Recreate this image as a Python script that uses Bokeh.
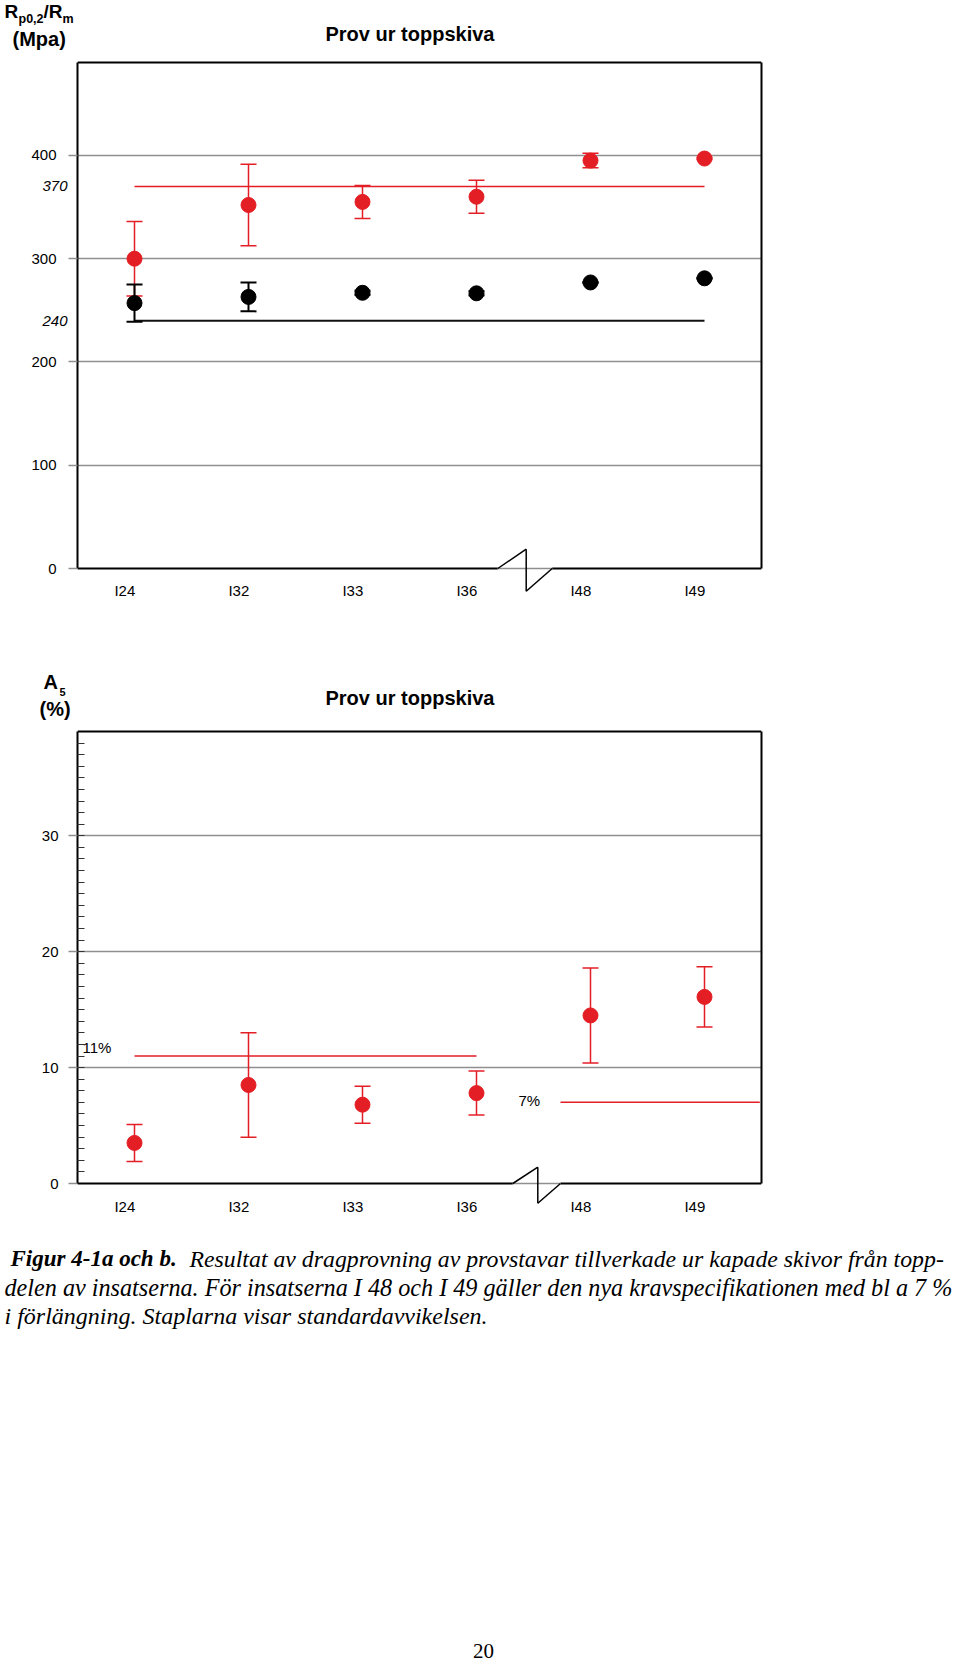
from bokeh.plotting import figure
from bokeh.layouts import column, row
from bokeh.models import Range1d, FixedTicker, Label, Arrow, ColumnDataSource, LinearAxis
from bokeh.embed import file_html
from bokeh.resources import INLINE

# ---------------- data ----------------
categories = ["I24", "I32", "I33", "I36", "I48", "I49"]
x_pos = [1, 2, 3, 4, 5, 6]

# Chart a: Rm (red) and Rp0.2 (black), MPa
rm_mean = [300, 352, 355, 360, 395, 397]
rm_sd = [36, 39.5, 16, 16, 7, 1]
rp_mean = [257, 263, 267, 266.5, 277, 281]
rp_sd = [18, 14, 2, 2, 0.5, 0.5]
rm_req = 370
rp_req = 240
y1_ticks = [0, 100, 200, 300, 400]
y1_req_ticks = [240, 370]
y1_max = 490

# Chart b: A5 elongation (%)
a5_mean = [3.5, 8.5, 6.8, 7.8, 14.5, 16.1]
a5_sd = [1.6, 4.5, 1.6, 1.9, 4.1, 2.6]
a5_req_old = 11
a5_req_new = 7
y2_ticks = [0, 10, 20, 30]
y2_minor = list(range(0, 39))
y2_max = 39

caption_bold = "Figur 4-1a och b."
caption_l1 = "Resultat av dragprovning av provstavar tillverkade ur kapade skivor från topp-"
caption_l2 = "delen av insatserna. För insatserna I 48 och I 49 gäller den nya kravspecifikationen med bl a 7 %"
caption_l3 = "i förlängning. Staplarna visar standardavvikelsen."
page_no = "20"

# ---------------- style / layout (page pixels) ----------------
RED = "#e31e24"
GRID = "#8f8f8f"
SANS = "Liberation Sans"
SERIF = "Liberation Serif"
PAGE_W = 960
STRIP_W = 68          # figure holding the y tick labels
TICK_OUT = 9
BOX_LEFT = STRIP_W + TICK_OUT   # 77
FW = 684
X0, X1 = 0.5, 6.5
PXU = FW / (X1 - X0)
LABEL_SHIFT = -0.085
CHART_W = PAGE_W - STRIP_W

# chart a geometry
H1_TOP, H1_H = 0, 56
R1_TOP = H1_TOP + H1_H              # 56
BOX1_TOP, BOX1_BOT = 62, 568
F1_TOP, F1_BOT = 58, 593
R1_H = 584
# chart b geometry
H2_TOP = R1_TOP + R1_H              # 640
H2_H = 84
R2_TOP = H2_TOP + H2_H              # 724
BOX2_TOP, BOX2_BOT = 731, 1183
F2_TOP, F2_BOT = 727, 1205
R2_H = 518
CAP_TOP = R2_TOP + R2_H             # 1242
CAP_H = 424


def no_align(p):
    if "frame_align" in p.properties():
        p.frame_align = False


def text_fig(width, height):
    p = figure(width=width, height=height, x_range=Range1d(0, width), y_range=Range1d(height, 0),
               output_backend="svg", toolbar_location=None, tools="",
               x_axis_location=None, y_axis_location=None, min_border=0)
    p.outline_line_color = None
    p.grid.visible = False
    no_align(p)
    return p


def add_text(p, top, px, py, text, size, style="bold", align="left", font=SANS):
    # py is the vertical centre of the text on the page
    p.add_layout(Label(x=px, y=py - top, text=text, text_font=font, text_font_size=size,
                       text_font_style=style, text_align=align, text_baseline="middle",
                       text_color="black"))


def chart_geom(box_top, box_bot, f_top, f_bot, r_top, r_h, ymax):
    k = (box_bot - box_top) / ymax
    yr = Range1d(-(f_bot - box_bot) / k, ymax + (box_top - f_top) / k)
    return dict(k=k, yr=yr, bt=f_top - r_top, fh=f_bot - f_top, bb=r_top + r_h - f_bot,
                box_bot=box_bot, f_bot=f_bot, ymax=ymax)


def make_strip(g, main_ticks, main_standoff, italic_ticks=None):
    p = figure(width=STRIP_W, frame_height=g["fh"], min_border_top=g["bt"], min_border_bottom=g["bb"],
               min_border_left=0, min_border_right=0,
               x_range=Range1d(0, 1), y_range=g["yr"], output_backend="svg",
               toolbar_location=None, tools="", x_axis_location=None, y_axis_location=None)
    p.outline_line_color = None
    p.grid.visible = False
    no_align(p)
    axes = [(main_ticks, main_standoff, "normal")]
    if italic_ticks:
        axes.append((italic_ticks, STRIP_W - (BOX_LEFT - 10), "italic"))
    for ticks, standoff, style in axes:
        ax = LinearAxis(ticker=FixedTicker(ticks=ticks), fixed_location=1.0,
                        axis_line_color=None, major_tick_in=0, major_tick_out=0,
                        minor_tick_in=0, minor_tick_out=0,
                        major_label_standoff=standoff, major_label_text_font=SANS,
                        major_label_text_font_size="15px", major_label_text_color="black",
                        major_label_text_font_style=style)
        p.add_layout(ax, "left")
    return p


def make_chart(g, yticks, label_centre, minor=None):
    p = figure(frame_width=FW, frame_height=g["fh"],
               min_border_left=TICK_OUT, min_border_right=CHART_W - TICK_OUT - FW,
               min_border_top=g["bt"], min_border_bottom=g["bb"],
               x_range=Range1d(X0, X1), y_range=g["yr"],
               output_backend="svg", toolbar_location=None, tools="")
    p.outline_line_color = None
    p.background_fill_color = "white"
    p.border_fill_color = "white"
    no_align(p)
    p.xgrid.visible = False
    p.ygrid.ticker = FixedTicker(ticks=[t for t in yticks if t > 0])
    p.ygrid.grid_line_color = GRID
    p.ygrid.grid_line_width = 1.5

    ya = p.yaxis[0]
    ya.ticker = FixedTicker(ticks=yticks, minor_ticks=minor or [])
    ya.bounds = (0, g["ymax"])
    ya.major_label_overrides = {t: "" for t in yticks}
    ya.major_label_standoff = 0
    ya.major_tick_out = TICK_OUT
    ya.major_tick_in = 0
    ya.major_tick_line_color = GRID
    ya.major_tick_line_width = 1.5
    if minor:
        ya.minor_tick_in = 7
        ya.minor_tick_out = 0
        ya.minor_tick_line_color = "#333333"
        ya.minor_tick_line_width = 1
    else:
        ya.minor_tick_in = 0
        ya.minor_tick_out = 0
    ya.axis_line_color = "black"
    ya.axis_line_width = 2

    # right edge of the box
    ra = LinearAxis(ticker=FixedTicker(ticks=[]), bounds=(0, g["ymax"]), axis_line_color="black",
                    axis_line_width=2, major_tick_in=0, major_tick_out=0, minor_tick_in=0,
                    minor_tick_out=0, major_label_standoff=0)
    p.add_layout(ra, "right")

    xa = p.xaxis[0]
    ticks = [x + LABEL_SHIFT for x in x_pos]
    xa.ticker = FixedTicker(ticks=ticks)
    xa.major_label_overrides = {t: c for t, c in zip(ticks, categories)}
    xa.major_tick_out = 0
    xa.major_tick_in = 0
    xa.minor_tick_out = 0
    xa.minor_tick_in = 0
    xa.axis_line_color = None
    xa.major_label_text_font = SANS
    xa.major_label_text_font_size = "15px"
    xa.major_label_text_color = "black"
    xa.major_label_standoff = int(round(label_centre - 9 - g["f_bot"]))
    return p


def seg(p, x0, y0, x1, y1, color, width):
    p.add_layout(Arrow(x_start=x0, y_start=y0, x_end=x1, y_end=y1, start=None, end=None,
                       line_color=color, line_width=width))


def frame_and_break(p, g, bx):
    # bx: page x of break start, zig x, break end; page y of the zig tips
    k = g["k"]
    xa, xb, xd = [X0 + (v - BOX_LEFT) / PXU for v in bx[:3]]
    yb = (g["box_bot"] - bx[3]) / k
    yc = (g["box_bot"] - bx[4]) / k
    ymax = g["ymax"]
    seg(p, X0, ymax, X1, ymax, "black", 2)
    seg(p, X0, 0, xa, 0, "black", 2)
    seg(p, xd, 0, X1, 0, "black", 2)
    seg(p, xa, 0, xd, 0, GRID, 1.5)
    seg(p, xa, 0, xb, yb, "black", 1.5)
    seg(p, xb, yb, xb, yc, "black", 1.5)
    seg(p, xb, yc, xd, 0, "black", 1.5)
    return xd


def errorbars(p, means, sds, color, lw):
    src = ColumnDataSource(dict(x=x_pos, y=means,
                                lo=[m - s for m, s in zip(means, sds)],
                                hi=[m + s for m, s in zip(means, sds)]))
    p.segment(x0="x", y0="lo", x1="x", y1="hi", source=src, line_color=color, line_width=lw)
    p.scatter(x="x", y="hi", source=src, marker="dash", size=16, line_color=color, line_width=lw)
    p.scatter(x="x", y="lo", source=src, marker="dash", size=16, line_color=color, line_width=lw)
    p.scatter(x="x", y="y", source=src, marker="circle", size=15,
              fill_color=color, line_color=color)


# ---------------- header a ----------------
h1 = text_fig(PAGE_W, H1_H)
add_text(h1, H1_TOP, 4, 11, "R", "19px")
add_text(h1, H1_TOP, 18, 18.6, "p0,2", "12.5px")
add_text(h1, H1_TOP, 43, 11, "/R", "19px")
add_text(h1, H1_TOP, 62, 18.2, "m", "12.5px")
add_text(h1, H1_TOP, 12, 38, "(Mpa)", "20px")
add_text(h1, H1_TOP, 325, 33, "Prov ur toppskiva", "20px")

# ---------------- chart a ----------------
g1 = chart_geom(BOX1_TOP, BOX1_BOT, F1_TOP, F1_BOT, R1_TOP, R1_H, y1_max)
s1 = make_strip(g1, y1_ticks, STRIP_W - 56, italic_ticks=y1_req_ticks)
p1 = make_chart(g1, y1_ticks, 590)
p1.segment(x0=[x_pos[0]], x1=[x_pos[-1]], y0=[rm_req], y1=[rm_req], line_color=RED, line_width=1.5)
p1.segment(x0=[x_pos[0]], x1=[x_pos[-1]], y0=[rp_req], y1=[rp_req], line_color="#111111", line_width=2)
errorbars(p1, rm_mean, rm_sd, RED, 1.5)
errorbars(p1, rp_mean, rp_sd, "black", 2)
frame_and_break(p1, g1, (497.3, 525.7, 551.7, 548.7, 590.7))

# ---------------- header b ----------------
h2 = text_fig(PAGE_W, H2_H)
add_text(h2, H2_TOP, 43, 681, "A", "20px")
add_text(h2, H2_TOP, 59, 691, "5", "11px")
add_text(h2, H2_TOP, 39, 708, "(%)", "20px")
add_text(h2, H2_TOP, 325, 697.5, "Prov ur toppskiva", "20px")

# ---------------- chart b ----------------
g2 = chart_geom(BOX2_TOP, BOX2_BOT, F2_TOP, F2_BOT, R2_TOP, R2_H, y2_max)
s2 = make_strip(g2, y2_ticks, STRIP_W - 58)
p2 = make_chart(g2, y2_ticks, 1206.5, minor=y2_minor)
xd2 = frame_and_break(p2, g2, (512.3, 537.3, 560.0, 1166.7, 1202.7))
p2.segment(x0=[x_pos[0]], x1=[x_pos[3]], y0=[a5_req_old], y1=[a5_req_old], line_color=RED, line_width=1.5)
p2.segment(x0=[xd2], x1=[X1 - 0.015], y0=[a5_req_new], y1=[a5_req_new], line_color=RED, line_width=1.5)
errorbars(p2, a5_mean, a5_sd, RED, 1.5)
for px, py, txt in [(82, 1047, "11%"), (518, 1100, "7%")]:
    p2.add_layout(Label(x=X0 + (px - BOX_LEFT) / PXU, y=(BOX2_BOT - py) / g2["k"], text=txt,
                        text_font=SANS, text_font_size="15px", text_align="left",
                        text_baseline="middle", text_color="black"))

# ---------------- caption ----------------
cap = text_fig(PAGE_W, CAP_H)
add_text(cap, CAP_TOP, 10, 1258, caption_bold, "23px", style="bold italic", font=SERIF)
add_text(cap, CAP_TOP, 189, 1258, caption_l1, "23.8px", style="italic", font=SERIF)
add_text(cap, CAP_TOP, 4, 1287, caption_l2, "24.2px", style="italic", font=SERIF)
add_text(cap, CAP_TOP, 4, 1315, caption_l3, "24px", style="italic", font=SERIF)
add_text(cap, CAP_TOP, 483, 1650, page_no, "21px", style="normal", align="center", font=SERIF)

layout = column(h1, row(s1, p1, spacing=0), h2, row(s2, p2, spacing=0), cap, spacing=0)
open("out.html", "w").write(file_html(layout, INLINE))
